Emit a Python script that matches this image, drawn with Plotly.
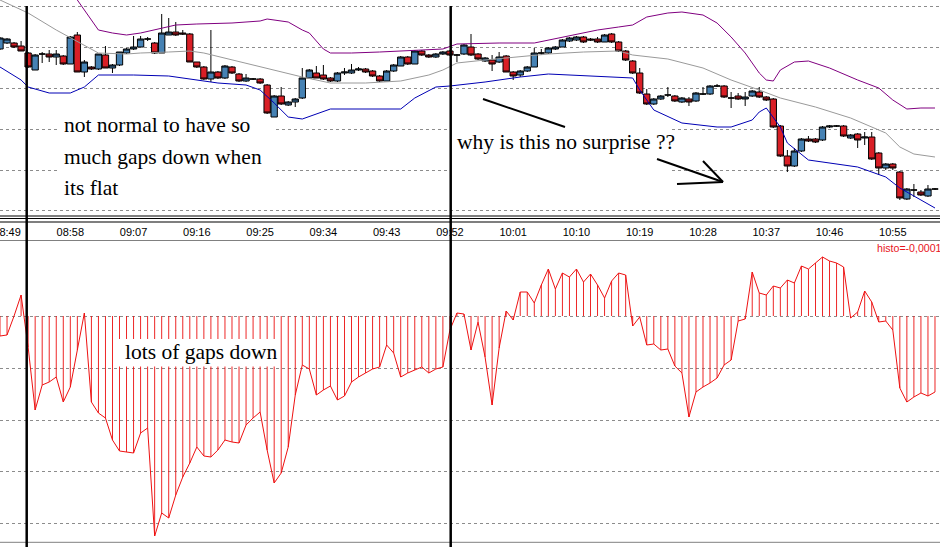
import plotly.graph_objects as go
import pandas as pd

# ---------------- data ----------------
START = "2013-05-10 08:48"
N_BARS = 134
times = pd.date_range(START, periods=N_BARS, freq="min")

OPEN = [167,173,173,170,163,146,162,162,159,160,
        152,181,144,149,147,161,148,151,163,167,
        169,177,173,163,181,184,183,182,154,149,
        137,144,138,149,142,135,137,137,131,99,
        120,111,114,118,138,143,141,138,135,143,
        143,146,147,145,140,135,145,150,159,152,
        165,161,159,162,165,161,162,169,162,155,
        156,154,160,144,141,145,149,163,163,167,
        169,175,176,179,177,177,174,182,174,165,
        155,143,122,112,117,121,120,114,117,115,
        122,122,130,130,118,120,117,120,124,119,
        117,90,60,50,65,77,77,76,89,90,
        90,78,82,78,79,63,48,52,44,17,
        26,24,20,27]
HIGH = [179,178,174,175,164,162,164,166,166,161,
        180,184,156,150,162,170,152,164,168,180,
        180,179,174,202,198,194,186,183,154,150,
        186,145,151,150,143,142,138,138,132,121,
        129,115,118,148,147,150,151,139,144,148,
        152,149,148,146,141,146,152,160,160,166,
        166,162,163,165,166,162,172,182,163,159,
        161,164,161,145,146,150,168,167,169,170,
        177,179,180,180,178,179,182,183,175,166,
        156,148,127,118,121,129,121,119,119,124,
        129,131,132,131,124,123,124,126,129,120,
        118,91,66,68,78,80,78,90,91,91,
        91,82,83,84,84,64,53,53,45,28,
        32,26,31,28]
LOW = [166,172,168,165,148,146,153,154,151,151,
       152,144,139,146,146,148,143,150,162,166,
       169,175,162,163,181,180,181,154,148,136,
       134,137,137,142,134,134,136,132,102,99,
       111,110,109,117,137,138,136,134,134,141,
       142,145,143,139,134,135,144,150,151,152,
       160,158,158,161,160,154,161,160,156,154,
       145,153,144,136,139,144,149,161,162,166,
       169,174,175,173,175,173,174,173,164,155,
       142,122,111,111,116,119,114,113,110,114,
       121,121,129,118,108,116,110,119,118,115,
       88,59,44,49,64,74,73,75,88,89,
       79,77,68,71,56,41,46,46,16,16,
       19,20,19,26]
CLOSE = [178,177,169,165,149,161,162,159,162,152,
         179,144,154,147,162,148,151,164,167,169,
         177,177,163,183,184,181,182,154,149,137,
         144,138,150,143,135,138,137,133,103,120,
         112,114,117,138,146,138,137,135,143,144,
         146,147,144,140,135,145,151,159,152,165,
         161,159,162,164,161,161,171,161,157,158,
         152,159,144,140,145,149,163,163,168,169,
         176,178,179,174,176,174,181,174,165,156,
         143,123,112,117,120,121,115,118,114,123,
         122,130,130,119,118,117,119,125,119,116,
         89,60,50,65,77,75,74,89,90,90,
         80,81,76,79,57,48,52,48,18,27,
         26,21,27,27]

# Bollinger bands, read at these bar indices
UPPER_IDX = [11,14,16,18,20,22,25,28,33,37,38,41,43,44,45,46,47,50,54,59,
             63,65,71,76,81,85,88,90,92,95,97,100,102,104,106,108,109,110,111,113,
             115,118,122,125,127,129,131,133]
UPPER = [216,186,183,181,183,186,191,192,193,195,197,194,186,183,175,167,163,163,164,166,
         167,172,173,173,180,186,189,191,199,203,204,201,193,179,163,143,136,135,146,154,
         155,148,136,128,116,107,108,108]
MID_IDX = [0,4,8,12,14,18,20,24,27,29,33,38,43,47,52,57,61,63,65,69,
           74,78,83,88,90,95,100,104,108,111,116,121,126,128,130,133]
MID = [216,203,186,171,163,162,163,164,165,163,156,148,139,133,133,135,141,146,153,156,
       159,162,164,165,161,157,148,136,126,118,109,98,83,69,62,59]
LOWER_IDX = [0,3,4,7,10,12,14,19,24,27,31,35,37,39,41,43,47,57,59,62,
             64,69,74,78,85,90,91,93,97,102,104,107,108,109,111,112,115,118,122,126,
             128,131,133]
LOWER = [149,136,129,123,123,129,141,141,140,137,133,131,126,113,99,97,107,107,118,129,
         130,134,139,142,140,138,126,106,93,89,89,96,104,108,89,73,56,53,49,39,
         28,16,8]

HISTO = [-20,-19,0,21,-31,-94,-69,-66,-61,-86,
         -71,-34,3,-86,-97,-102,-124,-135,-136,-137,
         -117,-112,-220,-197,-202,-179,-161,-147,-131,-140,
         -141,-134,-124,-126,-127,-109,-102,-96,-134,-167,
         -157,-131,-79,-49,-53,-79,-74,-70,-84,-80,
         -66,-61,-57,-53,-51,-29,-37,-61,-57,-54,
         -51,-57,-53,-51,-14,3,2,-34,-6,-41,
         -89,-32,5,-4,24,24,13,31,47,27,
         43,39,47,34,42,31,18,35,43,41,
         -10,-1,-29,-28,-34,-33,-50,-57,-101,-76,
         -71,-67,-62,-49,-44,-5,-3,44,23,21,
         30,28,36,33,50,47,53,59,55,53,
         49,-2,4,25,14,-6,-5,-14,-72,-86,
         -81,-77,-80,-76]

TOP_GRID = [210, 168.7, 127.3, 86.7, 46, 5.3]
LOW_GRID = [0, -52, -104, -155, -207.3]
HISTO_LABEL = "histo=-0,0001"

# ---------------- styling / layout constants ----------------
W, H = 940, 547
PX_PER_BAR = 7.03
BLUE = "#4682B4"
RED = "#d91f26"
HRED = "rgba(236,20,20,0.98)"
GRID = "#8c8c8c"
SERIF = "Liberation Serif, Times New Roman, serif"
SANS = "Liberation Sans, Arial, sans-serif"


def px(xp):
    return xp / W


def py(yp):
    return 1 - yp / H


fig = go.Figure()

fig.add_trace(go.Candlestick(
    x=times, open=OPEN, high=HIGH, low=LOW, close=CLOSE,
    increasing=dict(fillcolor=BLUE, line=dict(color="black", width=1)),
    decreasing=dict(fillcolor=RED, line=dict(color="black", width=1)),
    whiskerwidth=0, xaxis="x", yaxis="y", showlegend=False, hoverinfo="skip"))

fig.add_trace(go.Scatter(x=times[UPPER_IDX], y=UPPER, mode="lines",
                         line=dict(color="#800080", width=1), xaxis="x", yaxis="y", hoverinfo="skip"))
fig.add_trace(go.Scatter(x=times[MID_IDX], y=MID, mode="lines",
                         line=dict(color="#9a9a9a", width=1), xaxis="x", yaxis="y", hoverinfo="skip"))
fig.add_trace(go.Scatter(x=times[LOWER_IDX], y=LOWER, mode="lines",
                         line=dict(color="#0000b4", width=1), xaxis="x", yaxis="y", hoverinfo="skip"))

fig.add_trace(go.Bar(x=times, y=HISTO, width=8000, marker=dict(color=HRED, line=dict(width=0)),
                     xaxis="x2", yaxis="y2", hoverinfo="skip"))
fig.add_trace(go.Scatter(x=times, y=HISTO, mode="lines", line=dict(color="#ee1111", width=1),
                         xaxis="x2", yaxis="y2", hoverinfo="skip"))

t0 = times[0]
t1 = times[0] + pd.Timedelta(minutes=W / PX_PER_BAR)

fig.update_layout(
    width=W, height=H, margin=dict(l=0, r=0, t=0, b=0, pad=0, autoexpand=False),
    paper_bgcolor="white", plot_bgcolor="white", showlegend=False,
    boxgap=0.1, boxgroupgap=0,
    xaxis=dict(domain=[0, 1], anchor="y", type="date", range=[t0, t1], showgrid=False, automargin=False,
               zeroline=False, showticklabels=False, ticks="", rangeslider=dict(visible=False)),
    yaxis=dict(domain=[py(216), 1], range=[0, 216], tickvals=TOP_GRID, showticklabels=False,
               automargin=False,
               showgrid=True, gridcolor=GRID, gridwidth=1, griddash="3px,3px", zeroline=False, ticks=""),
    xaxis2=dict(domain=[0, 1], anchor="y2", matches="x", side="top", type="date", automargin=False,
                tick0="2013-05-10 08:49", dtick=9 * 60000, tickformat="%H:%M",
                showgrid=False, zeroline=False, showline=True, linecolor="#808080", linewidth=1,
                ticks="", ticklabeloverflow="allow",
                tickfont=dict(family=SANS, size=11, color="black")),
    yaxis2=dict(domain=[py(542), py(241)], range=[-226, 75], tickvals=LOW_GRID, showticklabels=False,
                automargin=False,
                showgrid=True, gridcolor=GRID, gridwidth=1, griddash="3px,3px", zeroline=False, ticks=""),
)

shapes = []
# panel separator
for yy in (216, 218.5, 222):
    shapes.append(dict(type="line", xref="paper", yref="paper", x0=0, x1=1, y0=py(yy), y1=py(yy),
                       line=dict(color="black", width=1.2), layer="above"))
shapes.append(dict(type="line", xref="paper", yref="paper", x0=0, x1=1, y0=py(542.3), y1=py(542.3),
                   line=dict(color="#808080", width=1), layer="above"))
# white text boxes
for (xa, xb, ya, yb) in [(57, 274, 118, 205), (448, 670, 122, 177), (118, 277, 339, 366.5)]:
    shapes.append(dict(type="rect", xref="paper", yref="paper", x0=px(xa), x1=px(xb), y0=py(yb), y1=py(ya),
                       fillcolor="white", line=dict(width=0), layer="above"))
# hand-drawn lines
for (xa, ya, xb, yb) in [(483, 99, 565, 127), (657, 159, 723, 182), (703, 161, 723, 182), (677, 184, 723, 182)]:
    shapes.append(dict(type="line", xref="paper", yref="paper", x0=px(xa), y0=py(ya), x1=px(xb), y1=py(yb),
                       line=dict(color="black", width=2), layer="above"))
for xv in (26.7, 450.7):
    shapes.append(dict(type="line", xref="paper", yref="paper", x0=px(xv), x1=px(xv), y0=py(6), y1=0,
                       line=dict(color="black", width=2.5), layer="above"))
fig.update_layout(shapes=shapes)

ann = []
for text, x, y in [("not normal to have so", 64, 125), ("much gaps down when", 64, 157),
                   ("its flat", 64, 188), ("why is this no surprise ??", 457, 142),
                   ("lots of gaps down", 125, 352)]:
    ann.append(dict(text=text, xref="paper", yref="paper", x=px(x - 2), y=py(y), xanchor="left",
                    yanchor="middle", showarrow=False, font=dict(family=SERIF, size=21.5, color="black")))
ann.append(dict(text=HISTO_LABEL, xref="paper", yref="paper", x=px(875), y=py(248), xanchor="left",
                yanchor="middle", showarrow=False, font=dict(family=SANS, size=10.6, color="#e8141c")))
fig.update_layout(annotations=ann)

fig.write_html("out.html", config={"displayModeBar": False, "responsive": False},
               post_script="document.body.style.margin='0px';document.body.style.overflow='hidden';")
